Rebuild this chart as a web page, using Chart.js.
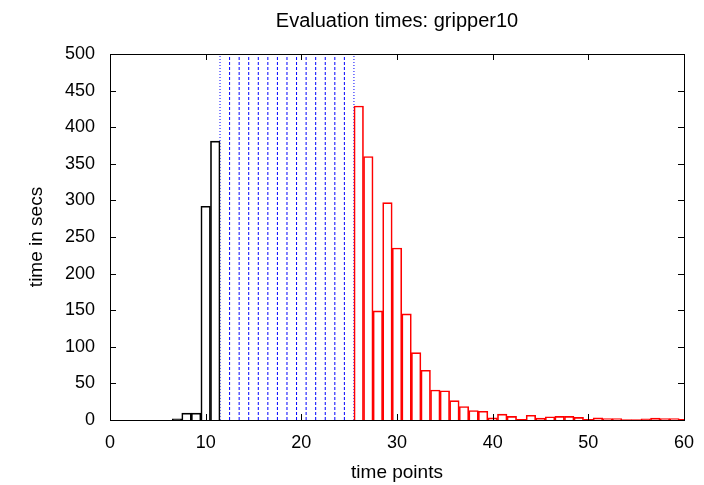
<!DOCTYPE html>
<html>
<head>
<meta charset="utf-8">
<script src="https://cdn.jsdelivr.net/npm/chart.js@4.4.0/dist/chart.umd.min.js"></script>
<style>
  body { margin: 0; background: #fff; }
  canvas { display: block; }
</style>
</head>
<body>
<canvas id="myChart" width="704" height="485"></canvas>
<script>
// time points (bins) and their evaluation times
let blackTimes = [0, 1, 2, 3, 4, 5, 6, 7, 8, 9, 10, 11];
let blackValues = [0, 0, 0, 0, 0, 0, 0, 1.5, 9.5, 9.5, 292, 381];

let redTimes = [26, 27, 28, 29, 30, 31, 32, 33, 34, 35, 36, 37, 38, 39, 40, 41, 42, 43,
    44, 45, 46, 47, 48, 49, 50, 51, 52, 53, 54, 55, 56, 57, 58, 59, 60];
let redValues = [429, 360, 149, 297, 235, 145, 92, 68, 41, 40, 26.5, 18.5, 13, 12, 3, 8, 5, 1,
    6.5, 2.5, 4.5, 5, 5, 3.5, 1, 3, 2, 2, 0.5, 0.5, 1.5, 2.5, 2, 2, 1];

// blue marker lines between the black and red bins
let markerTimes = [11.5, 12.5, 13.5, 14.5, 15.5, 16.5, 17.5, 18.5, 19.5, 20.5, 21.5, 22.5, 23.5, 24.5, 25.5];

let xTicks = [0, 10, 20, 30, 40, 50, 60];
let yTicks = [0, 50, 100, 150, 200, 250, 300, 350, 400, 450, 500];

let titleText = 'Evaluation times: gripper10';
let fontFamily = '"Liberation Sans", Arial, sans-serif';

let ctx = document.getElementById('myChart').getContext('2d');

function toPoints(xs, ys) {
    return xs.map((x, i) => ({ x: x, y: ys[i] }));
}

let datasets = [];
datasets.push({
    type: 'bar',
    data: toPoints(blackTimes, blackValues),
    backgroundColor: 'rgba(255,255,255,0)',
    borderColor: '#000000',
    borderWidth: 1,
    grouped: false,
    barPercentage: 1.0,
    categoryPercentage: 1.0
});
datasets.push({
    type: 'bar',
    data: toPoints(redTimes, redValues),
    backgroundColor: 'rgba(255,255,255,0)',
    borderColor: '#ff0000',
    borderWidth: 1,
    grouped: false,
    barPercentage: 1.0,
    categoryPercentage: 1.0
});
markerTimes.forEach(function(t, i) {
    let edge = (i === 0 || i === markerTimes.length - 1);
    datasets.push({
        type: 'line',
        data: [{ x: t, y: 0 }, { x: t, y: 500 }],
        borderColor: '#0000ff',
        borderWidth: 1,
        borderDash: edge ? [1, 2] : [3, 2],
        pointRadius: 0,
        fill: false
    });
});

// gnuplot style frame with inward ticks on all four sides
let framePlugin = {
    id: 'frame',
    afterDatasetsDraw(chart) {
        let c = chart.ctx;
        let a = chart.chartArea;
        let xs = chart.scales.x;
        let ys = chart.scales.y;
        let len = 6;
        c.save();
        c.strokeStyle = '#000';
        c.lineWidth = 1;
        c.beginPath();
        xTicks.forEach(function(v) {
            let px = Math.round(xs.getPixelForValue(v)) + 0.5;
            c.moveTo(px, a.bottom); c.lineTo(px, a.bottom - len);
            c.moveTo(px, a.top); c.lineTo(px, a.top + len);
        });
        yTicks.forEach(function(v) {
            let py = Math.round(ys.getPixelForValue(v)) + 0.5;
            c.moveTo(a.left, py); c.lineTo(a.left + len, py);
            c.moveTo(a.right, py); c.lineTo(a.right - len, py);
        });
        c.stroke();
        c.strokeRect(Math.round(a.left) + 0.5, Math.round(a.top) + 0.5,
            Math.round(a.right - a.left), Math.round(a.bottom - a.top));
        // chart title centred over the plot area
        c.fillStyle = '#000';
        c.font = '20px ' + fontFamily;
        c.textAlign = 'center';
        c.textBaseline = 'alphabetic';
        c.fillText(titleText, (a.left + a.right) / 2, 27);
        c.restore();
    }
};

let myChart = new Chart(ctx, {
    type: 'bar',
    data: { datasets: datasets },
    options: {
        responsive: false,
        animation: false,
        devicePixelRatio: 1,
        layout: { padding: { top: 54, right: 20, left: 0, bottom: 0 } },
        plugins: {
            legend: { display: false },
            tooltip: { enabled: false },
            title: { display: false }
        },
        scales: {
            x: {
                type: 'linear',
                min: 0,
                max: 60,
                offset: false,
                afterFit: function(s) {
                    s.height = 65;
                    s.paddingLeft = 0;
                    s.paddingRight = 0;
                },
                afterBuildTicks: function(s) { s.ticks = xTicks.map(v => ({ value: v })); },
                grid: { display: false, drawTicks: false, offset: false },
                border: { display: false },
                ticks: { color: '#000', padding: 12, font: { family: fontFamily, size: 18 } },
                title: {
                    display: true,
                    text: 'time points',
                    color: '#000',
                    padding: { top: 0, bottom: 1 },
                    font: { family: fontFamily, size: 19 }
                }
            },
            y: {
                min: 0,
                max: 500,
                afterFit: function(s) { s.width = 110; },
                afterBuildTicks: function(s) { s.ticks = yTicks.map(v => ({ value: v })); },
                grid: { display: false, drawTicks: false },
                border: { display: false },
                ticks: { color: '#000', padding: 15, font: { family: fontFamily, size: 18 } },
                title: {
                    display: true,
                    text: 'time in secs',
                    color: '#000',
                    padding: { top: 25, bottom: 0 },
                    font: { family: fontFamily, size: 19 }
                }
            }
        }
    },
    plugins: [framePlugin]
});
</script>
</body>
</html>
